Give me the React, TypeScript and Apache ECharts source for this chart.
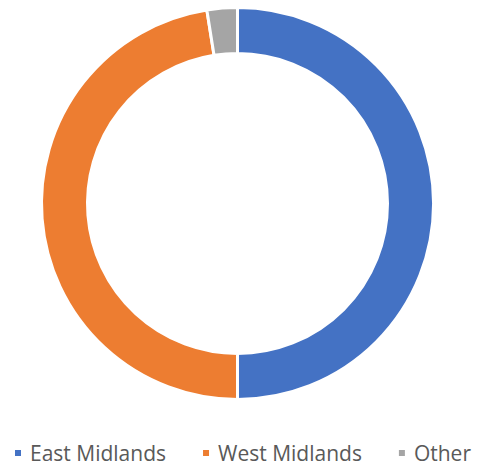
import React, { useEffect, useRef } from "react";
import * as echarts from "echarts";

const categories = ["East Midlands", "West Midlands", "Other"];
const values = [50, 47.5, 2.5];
const colors = ["#4472C4", "#ED7D31", "#A5A5A5"];

export default function App() {
  const ref = useRef<HTMLDivElement>(null);
  useEffect(() => {
    if (!ref.current) return;
    const chart = echarts.init(ref.current, undefined, { renderer: "svg" });
    chart.setOption({
      animation: false,
      legend: {
        data: categories,
        left: 13,
        top: 442,
        padding: 0,
        icon: "rect",
        itemWidth: 8,
        itemHeight: 8,
        itemGap: 35,
        textStyle: {
          color: "#595959",
          fontSize: 21,
          lineHeight: 22,
          fontFamily: "Open Sans",
          padding: [0, 0, 0, 3],
        },
      },
      series: [
        {
          type: "pie",
          center: [237.5, 203.5],
          radius: [150, 196],
          startAngle: 90,
          clockwise: true,
          label: { show: false },
          labelLine: { show: false },
          emphasis: { disabled: true },
          itemStyle: { borderColor: "#ffffff", borderWidth: 3 },
          data: categories.map((c, i) => ({
            name: c,
            value: values[i],
            itemStyle: { color: colors[i] },
          })),
        },
      ],
    });
    return () => chart.dispose();
  }, []);
  return (
    <div
      ref={ref}
      style={{ width: 479, height: 468, position: "absolute", left: 0, top: 0 }}
    />
  );
}
